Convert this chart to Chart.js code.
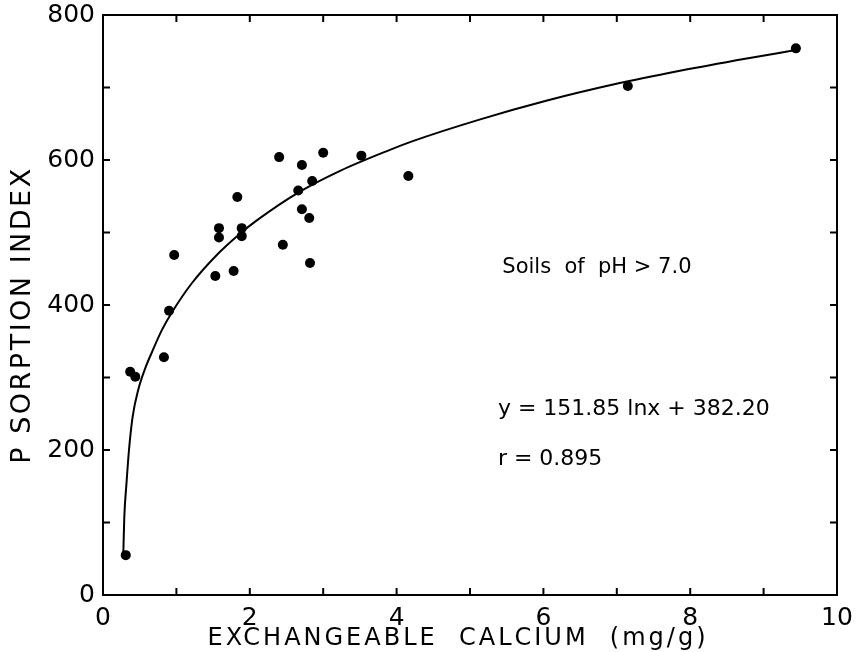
<!DOCTYPE html>
<html>
<head>
<meta charset="utf-8">
<script src="https://cdn.jsdelivr.net/npm/chart.js@4.4.0/dist/chart.umd.min.js"></script>
<style>
  body { margin: 0; background: #fff; }
  #wrap { width: 861px; height: 652px; }
</style>
</head>
<body>
<div id="wrap"><canvas id="sorcion"></canvas></div>
<script>
// Calcio intercambiable (mg/g) e indice de sorcion de P
const calcio  = [0.31, 0.37, 0.44, 0.83, 0.90, 0.97, 1.53, 1.58, 1.58, 1.78, 1.83, 1.89, 1.89,
                 2.40, 2.45, 2.66, 2.71, 2.71, 2.81, 2.82, 2.85, 3.00, 3.52, 4.16, 7.15, 9.44];
const sorcion = [55, 308, 301, 328, 392, 469, 440, 506, 493, 447, 549, 506, 495,
                 604, 483, 558, 593, 532, 520, 458, 571, 610, 606, 578, 702, 754];

// Curva ajustada: puntos leidos sobre la linea dibujada
const curvaX = [0.277, 0.29, 0.32, 0.354, 0.404, 0.48, 0.58, 0.68, 0.80, 0.94, 1.21, 1.57, 1.85,
                2.10, 2.66, 3.23, 3.91, 4.22, 5.14, 6.05, 6.95, 7.86, 8.77, 9.40];
const curvaY = [58, 107, 154, 200, 246, 283, 314, 338, 365, 390, 430, 471, 497,
                517, 555, 585, 614, 626, 656, 682, 704, 723, 740, 751];

// Etiquetas de los ejes
const etiquetasX = [0, 2, 4, 6, 8, 10];
const etiquetasY = [0, 200, 400, 600, 800];

const fuente = '"DejaVu Sans", sans-serif';

// Marco, marcas hacia dentro, titulos de ejes y anotaciones
const marcoPlugin = {
  id: 'marco',
  afterDraw(chart) {
    const { ctx, chartArea: a, scales: { x, y } } = chart;
    ctx.save();
    ctx.strokeStyle = '#000';
    ctx.lineWidth = 2;
    ctx.strokeRect(a.left, a.top, a.right - a.left, a.bottom - a.top);
    ctx.beginPath();
    x.ticks.forEach(t => {
      const px = x.getPixelForValue(t.value);
      ctx.moveTo(px, a.bottom); ctx.lineTo(px, a.bottom - 7);
      ctx.moveTo(px, a.top); ctx.lineTo(px, a.top + 7);
    });
    y.ticks.forEach(t => {
      const py = y.getPixelForValue(t.value);
      ctx.moveTo(a.left, py); ctx.lineTo(a.left + 7, py);
      ctx.moveTo(a.right, py); ctx.lineTo(a.right - 7, py);
    });
    ctx.stroke();

    ctx.fillStyle = '#000';
    ctx.textBaseline = 'alphabetic';

    // titulo del eje x
    ctx.font = '24px ' + fuente;
    ctx.letterSpacing = '3px';
    ctx.textAlign = 'center';
    ctx.fillText('EXCHANGEABLE  CALCIUM  (mg/g)', (a.left + a.right) / 2 - 12, a.bottom + 50);

    // titulo del eje y
    ctx.save();
    ctx.translate(a.left - 73, (a.top + a.bottom) / 2 + 10);
    ctx.rotate(-Math.PI / 2);
    ctx.font = '27px ' + fuente;
    ctx.letterSpacing = '2.5px';
    ctx.fillText('P SORPTION INDEX', 0, 0);
    ctx.restore();

    // anotaciones
    ctx.letterSpacing = '0px';
    ctx.textAlign = 'left';
    ctx.font = '21px ' + fuente;
    ctx.fillText('Soils  of  pH > 7.0', x.getPixelForValue(5.44), y.getPixelForValue(444));
    ctx.font = '22px ' + fuente;
    ctx.fillText('y = 151.85 lnx + 382.20', x.getPixelForValue(5.38), y.getPixelForValue(248));
    ctx.fillText('r = 0.895', x.getPixelForValue(5.38), y.getPixelForValue(179));
    ctx.restore();
  }
};

const puntos = calcio.map((v, i) => ({ x: v, y: sorcion[i] }));
const curva = curvaX.map((v, i) => ({ x: v, y: curvaY[i] }));

new Chart(document.getElementById('sorcion'), {
  type: 'scatter',
  data: {
    datasets: [
      {
        label: 'Suelos pH > 7.0',
        data: puntos,
        backgroundColor: '#000',
        borderWidth: 0,
        pointRadius: 5
      },
      {
        label: 'Ajuste',
        data: curva,
        showLine: true,
        borderColor: '#000',
        borderWidth: 2,
        pointRadius: 0,
        cubicInterpolationMode: 'monotone'
      }
    ]
  },
  options: {
    responsive: true,
    maintainAspectRatio: false,
    animation: false,
    layout: { padding: { top: 15, right: 24, left: 0, bottom: 0 } },
    plugins: {
      legend: { display: false },
      tooltip: { enabled: false }
    },
    scales: {
      x: {
        type: 'linear',
        min: 0,
        max: 10,
        grid: { display: false, drawTicks: false },
        border: { display: false },
        ticks: {
          stepSize: 1,
          autoSkip: false,
          maxRotation: 0,
          padding: 8,
          color: '#000',
          font: { family: fuente, size: 25 },
          callback: v => etiquetasX.includes(v) ? String(v) : ''
        },
        afterFit: s => { s.height = 57; s.paddingLeft = 0; s.paddingRight = 0; }
      },
      y: {
        min: 0,
        max: 800,
        grid: { display: false, drawTicks: false },
        border: { display: false },
        ticks: {
          stepSize: 100,
          autoSkip: false,
          padding: 8,
          color: '#000',
          font: { family: fuente, size: 25 },
          callback: v => etiquetasY.includes(v) ? String(v) : ''
        },
        afterFit: s => { s.width = 103; s.paddingTop = 0; s.paddingBottom = 0; }
      }
    }
  },
  plugins: [marcoPlugin]
});
</script>
</body>
</html>
